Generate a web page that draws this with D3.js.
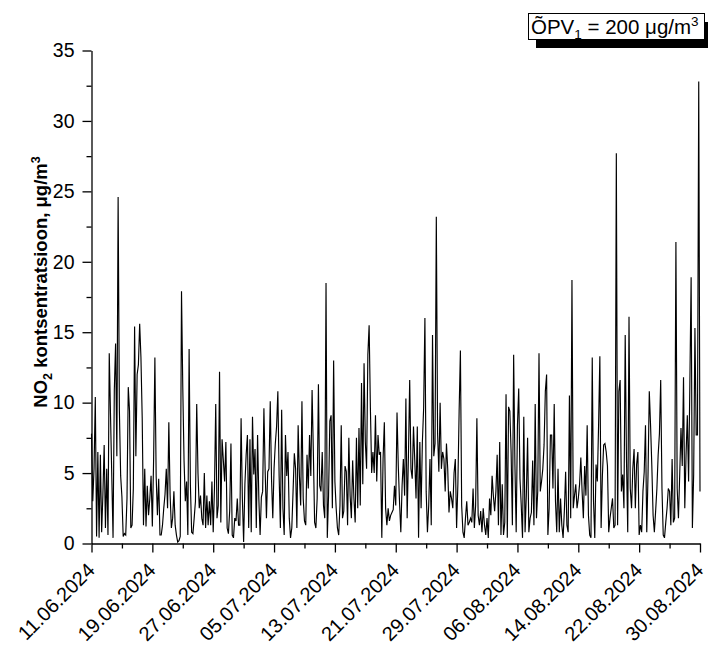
<!DOCTYPE html>
<html>
<head>
<meta charset="utf-8">
<script src="https://cdn.jsdelivr.net/npm/d3@7"></script>
<style>
  html, body { margin: 0; padding: 0; background: #fff; }
  svg { display: block; font-family: "Liberation Sans", Arial, sans-serif; }
</style>
</head>
<body>
<svg id="chart" width="708" height="645"></svg>
<script>
// ---- data (NO2, µg/m3), 4-hour readings from 11.06.2024 00:00 ----
const startDate = "2024-06-11";
const stepHours = 4;
const no2 = [
  7.8, 3.0, 5.3, 10.4, 0.5, 6.5,
  0.4, 6.3, 0.8, 3.5, 7.0, 1.1,
  5.3, 0.6, 13.5, 9.1, 4.8, 0.4,
  10.9, 14.2, 6.2, 24.6, 9.4, 4.8,
  3.3, 0.5, 0.7, 0.6, 3.2, 11.1,
  9.4, 1.1, 1.3, 3.9, 15.4, 6.2,
  12.0, 12.7, 15.6, 13.2, 8.9, 1.3,
  5.3, 1.2, 4.1, 2.0, 3.2, 4.8,
  1.2, 6.0, 13.2, 4.8, 2.0, 4.6,
  0.6, 0.6, 1.3, 2.5, 3.5, 5.3,
  2.5, 8.6, 3.5, 1.1, 1.8, 3.7,
  1.3, 0.6, 0.1, 0.2, 0.5, 17.9,
  11.1, 5.9, 3.0, 4.4, 0.6, 13.8,
  4.2, 0.8, 0.7, 1.8, 3.0, 9.9,
  5.0, 2.5, 3.4, 1.8, 1.3, 5.0,
  1.1, 3.4, 1.3, 3.0, 1.3, 4.4,
  0.8, 3.9, 9.9, 1.8, 2.7, 12.2,
  1.5, 7.4, 5.9, 4.4, 7.2, 1.1,
  0.7, 2.3, 7.1, 0.6, 0.4, 1.8,
  1.6, 3.2, 1.3, 1.3, 8.9, 3.2,
  0.1, 4.2, 6.3, 7.7, 1.1, 7.4,
  0.8, 9.0, 4.9, 6.7, 1.1, 7.7,
  3.2, 0.6, 3.3, 3.7, 9.6, 5.1,
  1.8, 5.1, 5.3, 10.1, 4.6, 1.8,
  5.3, 7.1, 8.3, 10.8, 4.8, 1.1,
  9.5, 2.5, 0.6, 7.7, 4.8, 6.5,
  1.8, 0.4, 1.1, 3.7, 6.4, 5.3,
  1.1, 8.4, 4.8, 2.7, 10.1, 3.2,
  1.6, 1.3, 6.3, 3.9, 7.7, 4.8,
  10.9, 6.5, 1.5, 1.1, 3.2, 11.3,
  4.1, 3.7, 6.5, 2.7, 1.8, 18.5,
  0.4, 3.4, 8.7, 9.1, 2.5, 13.0,
  4.4, 2.5, 1.1, 0.6, 2.7, 8.4,
  1.8, 2.3, 5.5, 5.1, 1.3, 7.5,
  3.4, 1.8, 5.9, 3.2, 1.5, 7.5,
  2.5, 8.2, 2.7, 11.4, 4.2, 12.8,
  7.2, 5.3, 13.4, 15.5, 9.6, 5.0,
  6.5, 5.0, 9.1, 4.4, 7.7, 6.3,
  6.5, 0.4, 6.0, 8.6, 2.5, 1.3,
  2.5, 1.6, 2.0, 2.2, 2.4, 4.1,
  2.7, 9.3, 5.5, 2.9, 0.8, 4.1,
  6.0, 3.4, 10.3, 1.8, 6.2, 11.6,
  5.3, 4.6, 8.3, 5.9, 3.2, 8.3,
  0.4, 7.2, 2.5, 7.2, 9.6, 16.0,
  3.7, 0.8, 2.7, 6.0, 1.3, 14.8,
  6.2, 7.1, 23.2, 7.8, 5.1, 10.0,
  5.3, 6.5, 6.0, 3.7, 7.1, 5.3,
  2.2, 3.7, 3.2, 2.5, 5.0, 6.0,
  1.1, 4.2, 9.4, 13.7, 2.7, 0.8,
  0.4, 1.8, 3.0, 1.3, 1.5, 1.8,
  1.5, 3.9, 1.1, 2.7, 8.9, 2.0,
  1.3, 2.3, 0.8, 2.5, 1.3, 0.6,
  1.8, 0.4, 3.2, 2.0, 4.8, 3.4,
  2.3, 3.7, 6.3, 1.3, 7.2, 0.6,
  4.2, 0.6, 1.5, 10.6, 0.4, 9.7,
  9.4, 6.5, 1.3, 13.4, 5.6, 0.8,
  8.4, 11.0, 4.6, 2.7, 0.4, 9.0,
  0.8, 3.4, 7.5, 0.8, 1.8, 2.2,
  5.9, 1.3, 9.9, 1.8, 3.7, 13.5,
  3.7, 4.4, 5.3, 7.0, 10.8, 12.0,
  0.6, 2.5, 7.7, 7.7, 3.9, 9.9,
  3.0, 0.8, 5.3, 0.8, 3.2, 1.3,
  0.4, 2.3, 5.1, 1.3, 0.8, 10.5,
  1.8, 18.7, 2.5, 3.4, 4.2, 2.5,
  3.2, 4.2, 6.1, 3.7, 1.8, 5.5,
  3.4, 8.4, 2.0, 0.6, 0.4, 13.2,
  3.0, 0.4, 5.6, 4.4, 8.4, 13.3,
  1.1, 4.8, 7.0, 7.1, 6.5, 5.5,
  0.8, 1.8, 2.5, 3.2, 1.1, 1.3,
  27.7, 1.3, 10.8, 11.6, 3.7, 4.9,
  2.5, 14.8, 6.0, 0.8, 16.1, 3.9,
  2.5, 5.3, 6.7, 2.5, 5.6, 6.5,
  0.6, 1.3, 0.8, 3.7, 5.1, 8.4,
  0.8, 4.9, 10.8, 8.4, 5.5, 2.0,
  0.8, 2.3, 3.9, 6.3, 7.8, 11.6,
  3.9, 0.6, 0.4, 1.5, 2.5, 3.9,
  3.7, 1.3, 6.0, 1.5, 1.8, 21.4,
  3.9, 1.8, 4.9, 8.2, 5.5, 11.8,
  2.5, 6.3, 9.1, 4.4, 11.3, 18.9,
  1.1, 4.9, 15.3, 7.7, 7.7, 32.8,
  3.7
];
const xTickLabels = ["11.06.2024","19.06.2024","27.06.2024","05.07.2024","13.07.2024",
  "21.07.2024","29.07.2024","06.08.2024","14.08.2024","22.08.2024","30.08.2024"];
const yTicks = [0, 5, 10, 15, 20, 25, 30, 35];
const yMinorTicks = [2.5, 7.5, 12.5, 17.5, 22.5, 27.5, 32.5];
const yLabel = ["NO", "2", " kontsentratsioon, μg/m", "3"];
const legendParts = ["ÕPV", "1", " = 200 μg/m", "3"];

// ---- drawing ----
(function () {
const svg = d3.select("#chart");
const parseLbl = d3.utcParse("%d.%m.%Y");
const fmt = d3.utcFormat("%d.%m.%Y");
const t0 = d3.utcParse("%Y-%m-%d")(startDate);
const data = no2.map((v, i) => ({ t: d3.utcHour.offset(t0, i * stepHours), v }));

const majorDates = xTickLabels.map(parseLbl);
const minorDates = majorDates.slice(0, -1).map(d => d3.utcDay.offset(d, 4));

const mLeft = 91.5, mRight = 700, mTop = 50.5, mBottom = 543.5;
const x = d3.scaleUtc().domain([majorDates[0], majorDates[majorDates.length - 1]]).range([mLeft, mRight]);
const y = d3.scaleLinear().domain([0, 35]).range([mBottom, mTop]);

// data line
svg.append("path")
  .datum(data)
  .attr("fill", "none")
  .attr("stroke", "#000")
  .attr("stroke-width", 1.15)
  .attr("d", d3.line().x(d => x(d.t)).y(d => y(d.v)));

// x axis
const xAxis = svg.append("g").attr("transform", `translate(0,${mBottom})`)
  .call(d3.axisBottom(x).tickValues(majorDates).tickFormat(fmt).tickSize(9).tickSizeOuter(0));
xAxis.select(".domain").attr("stroke-width", 1.3);
xAxis.selectAll(".tick line").attr("stroke-width", 1.3);
xAxis.selectAll(".tick text")
  .attr("x", 0).attr("y", 0).attr("dy", 0)
  .attr("transform", "translate(4,28) rotate(-45)")
  .style("text-anchor", "end")
  .style("font-size", "20px")
  .style("font-family", "'Liberation Sans', Arial, sans-serif")
  .attr("fill", "#000");
svg.append("g").attr("transform", `translate(0,${mBottom})`)
  .call(d3.axisBottom(x).tickValues(minorDates).tickFormat("").tickSize(5).tickSizeOuter(0))
  .call(g => g.select(".domain").remove())
  .selectAll(".tick line").attr("stroke-width", 1.3);

// y axis
const yAxis = svg.append("g").attr("transform", `translate(${mLeft},0)`)
  .call(d3.axisLeft(y).tickValues(yTicks).tickSize(9).tickPadding(8).tickSizeOuter(0));
yAxis.select(".domain").attr("stroke-width", 1.3);
yAxis.selectAll(".tick line").attr("stroke-width", 1.3);
yAxis.selectAll(".tick text")
  .style("font-size", "19.5px")
  .style("font-family", "'Liberation Sans', Arial, sans-serif")
  .attr("fill", "#000");
svg.append("g").attr("transform", `translate(${mLeft},0)`)
  .call(d3.axisLeft(y).tickValues(yMinorTicks).tickFormat("").tickSize(5).tickSizeOuter(0))
  .call(g => g.select(".domain").remove())
  .selectAll(".tick line").attr("stroke-width", 1.3);

// y label
const yl = svg.append("text")
  .attr("transform", "translate(47,282) rotate(-90)")
  .attr("text-anchor", "middle")
  .style("font-size", "18.5px")
  .style("font-weight", "bold");
yl.append("tspan").text(yLabel[0]);
yl.append("tspan").text(yLabel[1]).attr("dy", 5).style("font-size", "12.5px");
yl.append("tspan").text(yLabel[2]).attr("dy", -5);
yl.append("tspan").text(yLabel[3]).attr("dy", -7).style("font-size", "12.5px");

// legend box with shadow
svg.append("rect").attr("x", 536).attr("y", 22).attr("width", 176).attr("height", 26).attr("fill", "#000");
svg.append("rect").attr("x", 528.5).attr("y", 13.5).attr("width", 176).attr("height", 26)
  .attr("fill", "#fff").attr("stroke", "#000").attr("stroke-width", 1);
const lg = svg.append("text").attr("x", 531).attr("y", 34).style("font-size", "20.5px");
lg.append("tspan").text(legendParts[0]);
lg.append("tspan").text(legendParts[1]).attr("dy", 5).style("font-size", "13.5px");
lg.append("tspan").text(legendParts[2]).attr("dy", -5);
lg.append("tspan").text(legendParts[3]).attr("dy", -8).style("font-size", "13.5px");
})();
</script>
</body>
</html>
